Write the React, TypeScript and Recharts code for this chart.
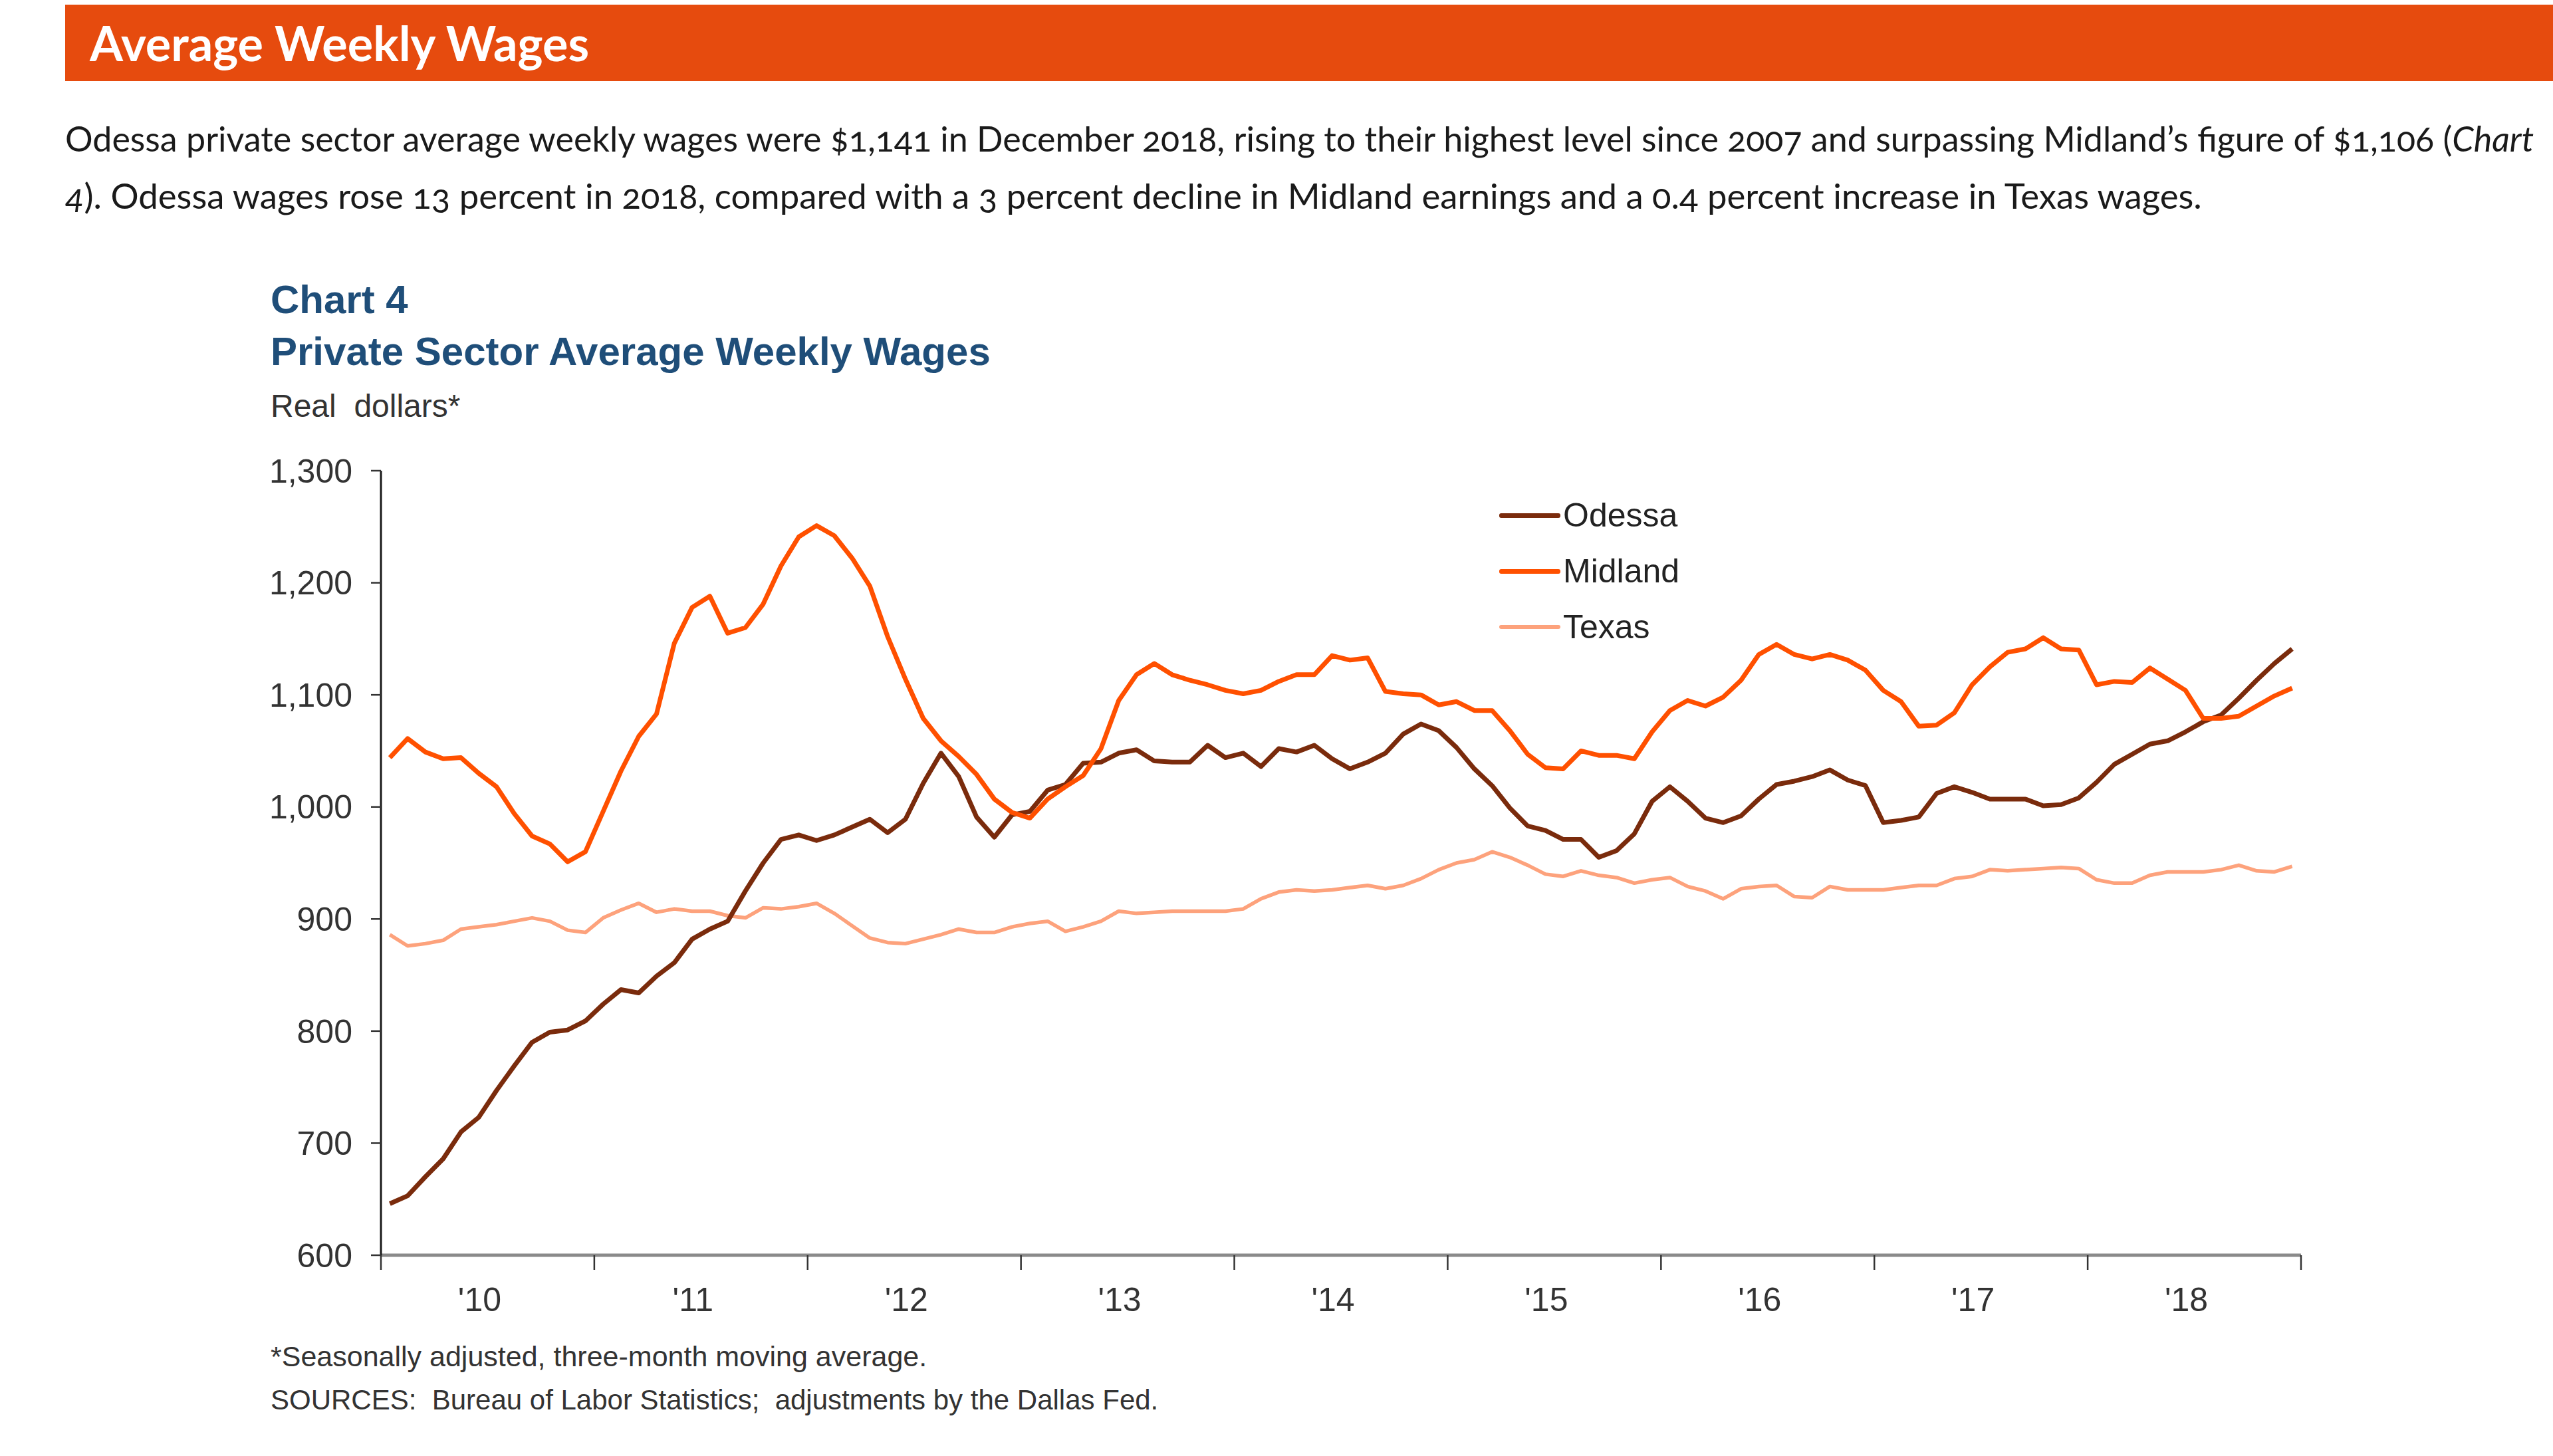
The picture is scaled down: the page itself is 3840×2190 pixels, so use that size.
import React from 'react';
import { LineChart, Line, XAxis, YAxis, Legend } from 'recharts';

// monthly values, Jan 2010 .. Dec 2018 (real dollars)
const ODESSA = [
  646, 653, 670, 686, 710, 723, 747, 769, 790, 799, 801, 809,
  824, 837, 834, 849, 861, 882, 891, 898, 925, 950, 971, 975,
  970, 975, 982, 989, 977, 989, 1021, 1048, 1027, 991, 973, 993,
  996, 1015, 1020, 1039, 1040, 1048, 1051, 1041, 1040, 1040, 1055, 1044,
  1048, 1036, 1052, 1049, 1055, 1043, 1034, 1040, 1048, 1065, 1074, 1068,
  1053, 1034, 1019, 999, 983, 979, 971, 971, 955, 961, 976, 1005,
  1018, 1005, 990, 986, 992, 1007, 1020, 1023, 1027, 1033, 1024, 1019,
  986, 988, 991, 1012, 1018, 1013, 1007, 1007, 1007, 1001, 1002, 1008,
  1022, 1038, 1047, 1056, 1059, 1067, 1076, 1082, 1097, 1113, 1128, 1141,
];

const MIDLAND = [
  1044, 1061, 1049, 1043, 1044, 1030, 1018, 994, 974, 967, 951, 960,
  996, 1032, 1063, 1083, 1146, 1178, 1188, 1155, 1160, 1181, 1215, 1241,
  1251, 1242, 1222, 1197, 1152, 1114, 1079, 1059, 1045, 1029, 1007, 995,
  990, 1007, 1018, 1028, 1052, 1095, 1118, 1128, 1118, 1113, 1109, 1104,
  1101, 1104, 1112, 1118, 1118, 1135, 1131, 1133, 1103, 1101, 1100, 1091,
  1094, 1086, 1086, 1068, 1047, 1035, 1034, 1050, 1046, 1046, 1043, 1067,
  1086, 1095, 1090, 1098, 1113, 1136, 1145, 1136, 1132, 1136, 1131, 1122,
  1104, 1094, 1072, 1073, 1084, 1109, 1125, 1138, 1141, 1151, 1141, 1140,
  1109, 1112, 1111, 1124, 1114, 1104, 1079, 1079, 1081, 1090, 1099, 1106,
];

const TEXAS = [
  886, 876, 878, 881, 891, 893, 895, 898, 901, 898, 890, 888,
  901, 908, 914, 906, 909, 907, 907, 903, 901, 910, 909, 911,
  914, 905, 894, 883, 879, 878, 882, 886, 891, 888, 888, 893,
  896, 898, 889, 893, 898, 907, 905, 906, 907, 907, 907, 907,
  909, 918, 924, 926, 925, 926, 928, 930, 927, 930, 936, 944,
  950, 953, 960, 955, 948, 940, 938, 943, 939, 937, 932, 935,
  937, 929, 925, 918, 927, 929, 930, 920, 919, 929, 926, 926,
  926, 928, 930, 930, 936, 938, 944, 943, 944, 945, 946, 945,
  935, 932, 932, 939, 942, 942, 942, 944, 948, 943, 942, 947,
];

const YEAR_LABELS = ["'10", "'11", "'12", "'13", "'14", "'15", "'16", "'17", "'18"];
const Y_TICKS = [600, 700, 800, 900, 1000, 1100, 1200, 1300];
const LEGEND_ORDER = ['Odessa', 'Midland', 'Texas'];

const C_ODESSA = '#7a2b0c';
const C_MIDLAND = '#ff5000';
const C_TEXAS = '#fda27c';

// x = month midpoint, so year boundaries fall on multiples of 12
const data = ODESSA.map((v, i) => ({ m: i + 0.5, odessa: v, midland: MIDLAND[i], texas: TEXAS[i] }));
const xTicks = YEAR_LABELS.flatMap((_, k) => [k * 12, k * 12 + 6]).concat(YEAR_LABELS.length * 12);

const YearTick = (props: any) => {
  const { x, y, payload } = props;
  const v = payload.value as number;
  if (v % 12 === 0) {
    return <line x1={x} x2={x} y1={y} y2={y + 22} stroke="#333" strokeWidth={2.5} />;
  }
  return (
    <text x={x - 12} y={y + 48} dy="0.71em" textAnchor="middle" fill="#333" fontSize={50}
      fontFamily="'Liberation Sans', Arial, sans-serif">
      {YEAR_LABELS[Math.floor(v / 12)]}
    </text>
  );
};

const LegendBox = (props: any) => {
  const items = [...(props.payload || [])].sort(
    (a: any, b: any) => LEGEND_ORDER.indexOf(a.value) - LEGEND_ORDER.indexOf(b.value));
  return (
    <div>
      {items.map((e: any) => (
        <div key={e.value} style={{ display: 'flex', alignItems: 'center', height: 84 }}>
          <div style={{ width: 92, height: e.payload?.strokeWidth ?? 6, background: e.color, borderRadius: 3 }} />
          <span style={{ marginLeft: 4, fontSize: 50, color: '#222', fontFamily: "'Liberation Sans', Arial, sans-serif" }}>
            {e.value}
          </span>
        </div>
      ))}
    </div>
  );
};

const abs = (left: number, top: number, extra: React.CSSProperties = {}): React.CSSProperties => ({
  position: 'absolute', left, top, whiteSpace: 'nowrap', ...extra,
});

const para: React.CSSProperties = {
  fontFamily: 'Lato, sans-serif', fontSize: 52.7, lineHeight: '80px', color: '#1a1a1a',
  fontVariantNumeric: 'oldstyle-nums',
};
const arial = "'Liberation Sans', Arial, sans-serif";

export default function App() {
  return (
    <div style={{ position: 'absolute', left: 0, top: 0, width: 3840, height: 2190, overflow: 'hidden', background: '#fff' }}>
      <div style={abs(98, 7, { width: 3742, height: 115, background: '#e64b0e' })}>
        <div style={abs(37, 0, { fontFamily: 'Lato, sans-serif', fontWeight: 700, fontSize: 72, lineHeight: '115px', color: '#fff' })}>
          Average Weekly Wages
        </div>
      </div>

      <div style={abs(98, 168, { ...para, fontSize: 52 })}>
        Odessa private sector average weekly wages were $1,141 in December 2018, rising to their highest level since 2007 and surpassing Midland’s figure of $1,106 (<i>Chart</i>
      </div>
      <div style={abs(98, 254, para)}>
        <i>4</i>). Odessa wages rose 13 percent in 2018, compared with a 3 percent decline in Midland earnings and a 0.4 percent increase in Texas wages.
      </div>

      <div style={abs(407, 421, { fontFamily: arial, fontWeight: 700, fontSize: 60, lineHeight: '60px', color: '#1f4e79' })}>
        Chart 4
      </div>
      <div style={abs(407, 499, { fontFamily: arial, fontWeight: 700, fontSize: 60, lineHeight: '60px', color: '#1f4e79' })}>
        Private Sector Average Weekly Wages
      </div>
      <div style={abs(407, 587, { fontFamily: arial, fontSize: 48, lineHeight: '48px', color: '#333', whiteSpace: 'pre' })}>
        {'Real  dollars*'}
      </div>

      <div style={abs(300, 650)}>
        <LineChart width={3201} height={1398} data={data} margin={{ top: 58, right: 40, bottom: 10, left: 0 }}>
          <XAxis
            dataKey="m"
            type="number"
            domain={[0, YEAR_LABELS.length * 12]}
            ticks={xTicks}
            interval={0}
            height={150}
            tickSize={0}
            tickMargin={0}
            tickLine={false}
            tick={<YearTick />}
            axisLine={{ stroke: '#8a8a8a', strokeWidth: 5 }}
          />
          <YAxis
            type="number"
            domain={[600, 1300]}
            ticks={Y_TICKS}
            interval={0}
            width={273}
            tickSize={15}
            tickMargin={28}
            tickFormatter={(v: number) => v.toLocaleString('en-US')}
            tick={{ fill: '#333', fontSize: 50, fontFamily: arial }}
            tickLine={{ stroke: '#333', strokeWidth: 2.5 }}
            axisLine={{ stroke: '#1a1a1a', strokeWidth: 3 }}
          />
          <Legend
            layout="horizontal"
            verticalAlign="middle"
            align="center"
            content={<LegendBox />}
            wrapperStyle={{ left: 1955, top: 83, width: 400 }}
          />
          <Line type="linear" dataKey="texas" name="Texas" stroke={C_TEXAS} strokeWidth={5.5}
            dot={false} strokeLinejoin="round" isAnimationActive={false} />
          <Line type="linear" dataKey="odessa" name="Odessa" stroke={C_ODESSA} strokeWidth={7}
            dot={false} strokeLinejoin="round" isAnimationActive={false} />
          <Line type="linear" dataKey="midland" name="Midland" stroke={C_MIDLAND} strokeWidth={7}
            dot={false} strokeLinejoin="round" isAnimationActive={false} />
        </LineChart>
      </div>

      <div style={abs(407, 2015, { fontFamily: arial, fontSize: 43, lineHeight: '50px', color: '#333' })}>
        *Seasonally adjusted, three-month moving average.
      </div>
      <div style={abs(407, 2081, { fontFamily: arial, fontSize: 42, lineHeight: '50px', color: '#333', whiteSpace: 'pre' })}>
        {'SOURCES:  Bureau of Labor Statistics;  adjustments by the Dallas Fed.'}
      </div>
    </div>
  );
}
